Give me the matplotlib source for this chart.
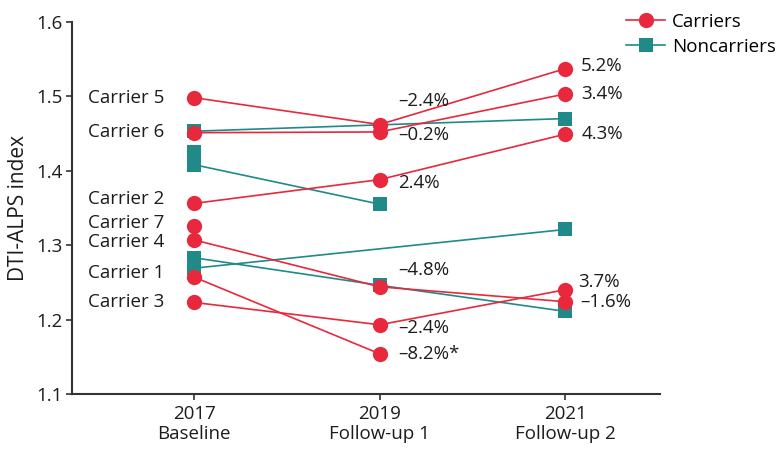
import numpy as np
import matplotlib.pyplot as plt

plt.rcParams['font.family'] = ['Open Sans', 'DejaVu Sans']

RED = "#E8283C"
TEAL = "#1F8A87"
INK = "#1c1c1c"

# time points
timepoints = ["2017\nBaseline", "2019\nFollow-up 1", "2021\nFollow-up 2"]

# DTI-ALPS index per subject (nan = no scan)
carrier_names = ["Carrier 5", "Carrier 6", "Carrier 2", "Carrier 7",
                 "Carrier 4", "Carrier 1", "Carrier 3"]
carrier_vals = [
    [1.498, 1.462, 1.537],
    [1.451, 1.452, 1.503],
    [1.356, 1.388, 1.449],
    [1.326, np.nan, np.nan],
    [1.307, 1.244, 1.224],
    [1.257, 1.154, np.nan],
    [1.223, 1.193, 1.240],
]
noncarrier_vals = [
    [1.453, np.nan, 1.470],
    [1.408, 1.355, np.nan],
    [1.425, np.nan, np.nan],
    [1.283, 1.246, 1.211],
    [1.269, np.nan, 1.321],
]

# percent change vs previous visit
pct_fu1 = ["\u20132.4%", "\u20130.2%", "2.4%", None, "\u20134.8%", "\u20138.2%*", "\u20132.4%"]
pct_fu2 = ["5.2%", "3.4%", "4.3%", None, "\u20131.6%", None, "3.7%"]

# label nudges in points (dx, dy)
name_dy = [0, 0.7, 2.9, 2.0, -1.4, 2.9, 0]
fu1_off = [(13.5, 16.6), (13.5, -2.4), (13.5, -2.4), None, (13.5, 12), (13.5, 0), (13.5, -2.2)]
fu2_off = [(11.5, 1.9), (11.5, 0), (11.5, 0), None, (10.8, 0), None, (9.4, 5.3)]

fig = plt.figure(figsize=(7.79, 4.49), dpi=100)
ax = fig.add_axes([0.092, 0.1225, 0.755, 0.829])

x = np.arange(len(timepoints))

for vals in noncarrier_vals:
    v = np.array(vals)
    m = ~np.isnan(v)
    ax.plot(x[m], v[m], color=TEAL, lw=1.2, marker="s", ms=10.5,
            markeredgewidth=0, zorder=2)

for i, vals in enumerate(carrier_vals):
    v = np.array(vals)
    m = ~np.isnan(v)
    ax.plot(x[m], v[m], color=RED, lw=1.2, marker="o", ms=11,
            markeredgewidth=0, zorder=3)
    ax.annotate(carrier_names[i], (x[0], v[0]), xytext=(-21.6, name_dy[i]),
                textcoords="offset points", ha="right", va="center",
                fontsize=13.5, color=INK)
    if pct_fu1[i]:
        ax.annotate(pct_fu1[i], (x[1], v[1]), xytext=fu1_off[i],
                    textcoords="offset points", ha="left", va="center",
                    fontsize=13.5, color=INK)
    if pct_fu2[i]:
        ax.annotate(pct_fu2[i], (x[2], v[2]), xytext=fu2_off[i],
                    textcoords="offset points", ha="left", va="center",
                    fontsize=13.5, color=INK)

ax.set_xlim(-0.66, 2.51)
ax.set_ylim(1.1, 1.6)
ax.set_yticks([1.1, 1.2, 1.3, 1.4, 1.5, 1.6])
ax.set_yticklabels(["1.1", "1.2", "1.3", "1.4", "1.5", "1.6"])
ax.set_xticks(x)
ax.set_xticklabels(timepoints, linespacing=1.15)
ax.tick_params(labelsize=13.5, colors="#333333", labelcolor=INK,
               length=4, width=1.2, pad=2.5)
ax.tick_params(axis="x", pad=4)
ax.set_ylabel("DTI-ALPS index", fontsize=15, color=INK, labelpad=5)

for s in ["top", "right"]:
    ax.spines[s].set_visible(False)
for s in ["left", "bottom"]:
    ax.spines[s].set_color("#333333")
    ax.spines[s].set_linewidth(1.5)

# legend sits outside the axes, upper right
h1, = ax.plot([], [], color=RED, lw=1.2, marker="o", ms=11, markeredgewidth=0)
h2, = ax.plot([], [], color=TEAL, lw=1.2, marker="s", ms=10.5, markeredgewidth=0)
fig.legend([h1, h2], ["Carriers", "Noncarriers"], loc="upper left",
           bbox_to_anchor=(626 / 779, 1 - 13 / 449), frameon=False,
           fontsize=13.5, handlelength=2.1, handletextpad=0.35,
           labelspacing=0.35, borderpad=0, borderaxespad=0)

fig.savefig("out.png", dpi=100)
